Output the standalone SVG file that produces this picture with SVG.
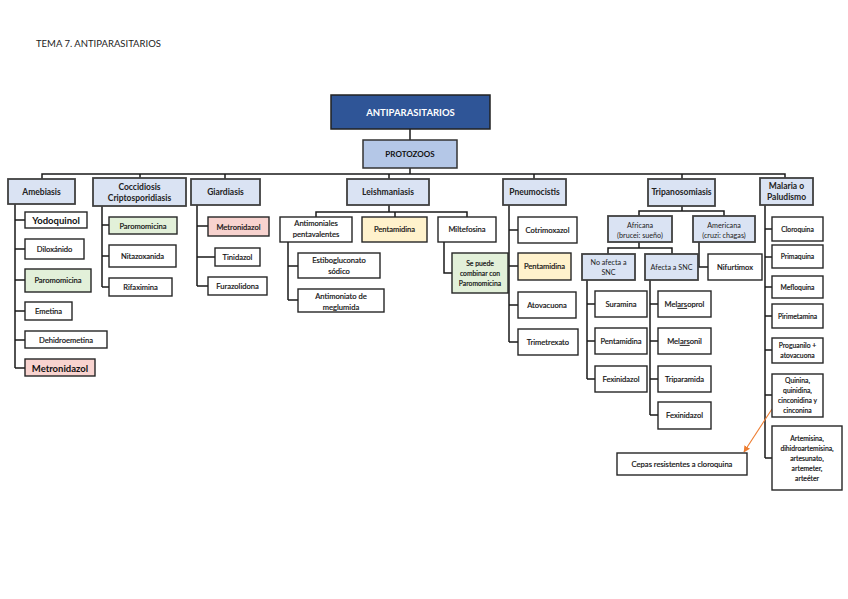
<svg xmlns="http://www.w3.org/2000/svg" width="848" height="599" viewBox="0 0 848 599">
<defs>
<style>
text{font-family:Lato,"Liberation Sans",sans-serif;fill:#111;stroke:#111;stroke-width:0.18;text-anchor:middle;font-size:7.6px}
.t{font-size:9.5px;text-anchor:start;fill:#222;stroke:none}
.cat rect{fill:#dae3f3;stroke:#404040;stroke-width:1.8}
.cat text{font-weight:bold;font-size:8.5px;fill:#222;stroke:none}
.b rect{fill:#fff;stroke:#262626;stroke-width:1.4}
.g rect{fill:#e2f0d9}
.r rect{fill:#f8d3cf}
.y rect{fill:#fff2cc}
.bd text{font-weight:bold;font-size:9.5px;stroke:none}
.sm text{font-size:6.8px}
#conn path{fill:none;stroke:#1a1a1a;stroke-width:1.5}
</style>
<marker id="ah" viewBox="0 0 10 10" refX="9" refY="5" markerWidth="6" markerHeight="6" orient="auto"><path d="M0 0L10 5L0 10z" fill="#ed7d31"/></marker>
</defs>
<rect width="848" height="599" fill="#fff"/>
<text class="t" x="36" y="47">TEMA 7. ANTIPARASITARIOS</text>

<g id="conn">
<path d="M410 129V140M410 168V174M42 179V174H785V178M140 174V178M225 174V179M389 174V179M534 174V179M682 174V179"/>
<path d="M15 204V368M15 220H25M15 249H25M15 280H25M15 311H25M15 340H25M15 368H25"/>
<path d="M102 206V287M102 225H109M102 256H109M102 287H109"/>
<path d="M197 205V286M197 226H208M197 257H215M197 286H208"/>
<path d="M389 205V212M316 217V212H467V217M395 212V217"/>
<path d="M288 242V300M288 266H298M288 300H298"/>
<path d="M444 242V273H452"/>
<path d="M509 205V342M509 230H518M509 266H518M509 305H518M509 342H518"/>
<path d="M682 206V211M639 216V211H724V216"/>
<path d="M639 242V248M608 254V248H672V254"/>
<path d="M699 242V267H708"/>
<path d="M587 280V379M587 304H595M587 341H595M587 379H595"/>
<path d="M650 280V415M650 304H658M650 341H658M650 379H658M650 415H658"/>
<path d="M765 205V458M765 229H772M765 257H772M765 287H772M765 316H772M765 350H772M765 395H772M765 458H772"/>
<line x1="772" y1="409" x2="744" y2="452" stroke="#ed7d31" stroke-width="1.1" marker-end="url(#ah)"/>
</g>

<g id="antiparasitarios"><rect x="331" y="95" width="159" height="34" fill="#2f5597" stroke="#222" stroke-width="1.5"/><text x="410.5" y="115.5" style="fill:#fff;stroke:none;font-weight:bold;font-size:9.5px">ANTIPARASITARIOS</text></g>
<g id="protozoos"><rect x="363" y="140" width="94" height="28" fill="#b4c7e7" stroke="#333" stroke-width="1.5"/><text x="410" y="157" style="font-weight:bold;stroke:none;font-size:8px">PROTOZOOS</text></g>

<g id="amebiasis" class="cat"><rect x="8" y="179" width="67" height="25"/><text x="41.5" y="194.5">Amebiasis</text></g>
<g id="coccidiosis" class="cat"><rect x="93" y="178" width="93" height="28"/><text x="139.5" y="190">Coccidiosis<tspan x="139.5" dy="11">Criptosporidiasis</tspan></text></g>
<g id="giardiasis" class="cat"><rect x="191" y="179" width="69" height="26"/><text x="225.5" y="195">Giardiasis</text></g>
<g id="leishmaniasis" class="cat"><rect x="347" y="179" width="82" height="26"/><text x="388" y="195">Leishmaniasis</text></g>
<g id="pneumocistis" class="cat"><rect x="503" y="179" width="63" height="26"/><text x="534.5" y="195">Pneumocistis</text></g>
<g id="tripanosomiasis" class="cat"><rect x="648" y="179" width="67" height="27"/><text x="681.5" y="195">Tripanosomiasis</text></g>
<g id="malaria" class="cat"><rect x="760" y="178" width="53" height="27"/><text x="786.5" y="189">Malaria o<tspan x="786.5" dy="11">Paludismo</tspan></text></g>

<g id="yodoquinol" class="b bd"><rect x="25" y="212" width="62" height="16"/><text x="56" y="223.5">Yodoquinol</text></g>
<g id="diloxanido" class="b"><rect x="25" y="239" width="59" height="20"/><text x="54.5" y="252">Diloxánido</text></g>
<g id="paromomicina1" class="b g"><rect x="25" y="269" width="66" height="23"/><text x="58" y="283">Paromomicina</text></g>
<g id="emetina" class="b"><rect x="25" y="302" width="47" height="18"/><text x="48.5" y="314">Emetina</text></g>
<g id="dehidroemetina" class="b"><rect x="25" y="331" width="82" height="17"/><text x="66" y="342.5">Dehidroemetina</text></g>
<g id="metronidazol1" class="b r bd"><rect x="25" y="359" width="70" height="17"/><text x="60" y="371.5">Metronidazol</text></g>

<g id="paromomicina2" class="b g"><rect x="109" y="217" width="68" height="17"/><text x="143" y="228.5">Paromomicina</text></g>
<g id="nitazoxanida" class="b"><rect x="109" y="245" width="67" height="22"/><text x="142.5" y="259">Nitazoxanida</text></g>
<g id="rifaximina" class="b"><rect x="109" y="278" width="63" height="18"/><text x="140.5" y="290">Rifaximina</text></g>

<g id="metronidazol2" class="b r"><rect x="208" y="217" width="61" height="19"/><text x="238.5" y="229.5">Metronidazol</text></g>
<g id="tinidazol" class="b"><rect x="215" y="248" width="45" height="18"/><text x="237.5" y="260">Tinidazol</text></g>
<g id="furazolidona" class="b"><rect x="208" y="277" width="59" height="18"/><text x="237.5" y="289">Furazolidona</text></g>

<g id="antimoniales" class="b"><rect x="280" y="217" width="72" height="25"/><text x="316" y="226">Antimoniales<tspan x="316" dy="11">pentavalentes</tspan></text></g>
<g id="pentamidina1" class="b y"><rect x="362" y="217" width="65" height="25"/><text x="394.5" y="232">Pentamidina</text></g>
<g id="miltefosina" class="b"><rect x="438" y="217" width="58" height="25"/><text x="467" y="232">Miltefosina</text></g>
<g id="estibogluconato" class="b"><rect x="298" y="253" width="82" height="25"/><text x="339" y="263">Estibogluconato<tspan x="339" dy="11">sódico</tspan></text></g>
<g id="antimoniato" class="b"><rect x="298" y="289" width="86" height="23"/><text x="341" y="299">Antimoniato de<tspan x="341" dy="11">meglumida</tspan></text></g>
<g id="sepuede" class="b g sm"><rect x="452" y="253" width="56" height="40"/><text x="480" y="266">Se puede<tspan x="480" dy="10">combinar con</tspan><tspan x="480" dy="10">Paromomicina</tspan></text></g>

<g id="cotrimoxazol" class="b"><rect x="518" y="217" width="59" height="26"/><text x="547.5" y="233">Cotrimoxazol</text></g>
<g id="pentamidina2" class="b y"><rect x="518" y="253" width="53" height="27"/><text x="544.5" y="269">Pentamidina</text></g>
<g id="atovacuona" class="b"><rect x="518" y="292" width="58" height="26"/><text x="547" y="308">Atovacuona</text></g>
<g id="trimetrexato" class="b"><rect x="518" y="329" width="60" height="26"/><text x="548" y="345">Trimetrexato</text></g>

<g id="africana" class="cat"><rect x="608" y="216" width="64" height="26"/><text x="640" y="228" style="font-weight:normal;font-size:7.2px">Africana<tspan x="640" dy="10">(brucei: sueño)</tspan></text></g>
<g id="americana" class="cat"><rect x="693" y="216" width="62" height="26"/><text x="724" y="228" style="font-weight:normal;font-size:7.2px">Americana<tspan x="724" dy="10">(cruzi: chagas)</tspan></text></g>
<g id="noafecta" class="cat"><rect x="582" y="254" width="53" height="26"/><text x="608.5" y="265" style="font-weight:normal;font-size:7.2px">No afecta a<tspan x="608.5" dy="10">SNC</tspan></text></g>
<g id="afecta" class="cat"><rect x="645" y="254" width="53" height="26"/><text x="671.5" y="270" style="font-weight:normal;font-size:7.2px">Afecta a SNC</text></g>
<g id="nifurtimox" class="b"><rect x="708" y="254" width="54" height="26"/><text x="735" y="270">Nifurtimox</text></g>

<g id="suramina" class="b"><rect x="595" y="291" width="52" height="26"/><text x="621" y="307">Suramina</text></g>
<g id="pentamidina3" class="b"><rect x="595" y="328" width="52" height="26"/><text x="621" y="344">Pentamidina</text></g>
<g id="fexinidazol1" class="b"><rect x="595" y="366" width="52" height="26"/><text x="621" y="382">Fexinidazol</text></g>
<g id="melarsoprol" class="b"><rect x="658" y="291" width="53" height="26"/><text x="684.5" y="307">Mel<tspan text-decoration="underline">ars</tspan>oprol</text></g>
<g id="melarsonil" class="b"><rect x="658" y="328" width="53" height="26"/><text x="684.5" y="344">Mel<tspan text-decoration="underline">ars</tspan>onil</text></g>
<g id="triparsamida" class="b"><rect x="658" y="366" width="53" height="26"/><text x="684.5" y="382">Triparamida</text></g>
<g id="fexinidazol2" class="b"><rect x="658" y="402" width="53" height="27"/><text x="684.5" y="418">Fexinidazol</text></g>

<g id="cloroquina" class="b sm"><rect x="772" y="217" width="51" height="24"/><text x="797.5" y="232">Cloroquina</text></g>
<g id="primaquina" class="b sm"><rect x="772" y="245" width="51" height="23"/><text x="797.5" y="259">Primaquina</text></g>
<g id="mefloquina" class="b sm"><rect x="772" y="276" width="51" height="22"/><text x="797.5" y="290">Mefloquina</text></g>
<g id="pirimetamina" class="b sm"><rect x="772" y="304" width="51" height="24"/><text x="797.5" y="319">Pirimetamina</text></g>
<g id="proguanilo" class="b sm"><rect x="772" y="338" width="51" height="25"/><text x="797.5" y="348">Proguanilo +<tspan x="797.5" dy="10">atovacuona</tspan></text></g>
<g id="quinina" class="b sm"><rect x="772" y="374" width="51" height="43"/><text x="797.5" y="383">Quinina,<tspan x="797.5" dy="10">quinidina,</tspan><tspan x="797.5" dy="10">cinconidina y</tspan><tspan x="797.5" dy="10">cinconina</tspan></text></g>
<g id="artemisina" class="b sm"><rect x="772" y="426" width="70" height="64"/><text x="807" y="441">Artemisina,<tspan x="807" dy="10">dihidroartemisina,</tspan><tspan x="807" dy="10">artesunato,</tspan><tspan x="807" dy="10">artemeter,</tspan><tspan x="807" dy="10">arteéter</tspan></text></g>
<g id="cepas" class="b"><rect x="617" y="453" width="130" height="22" stroke-width="1"/><text x="682" y="467">Cepas resistentes a cloroquina</text></g>
</svg>
